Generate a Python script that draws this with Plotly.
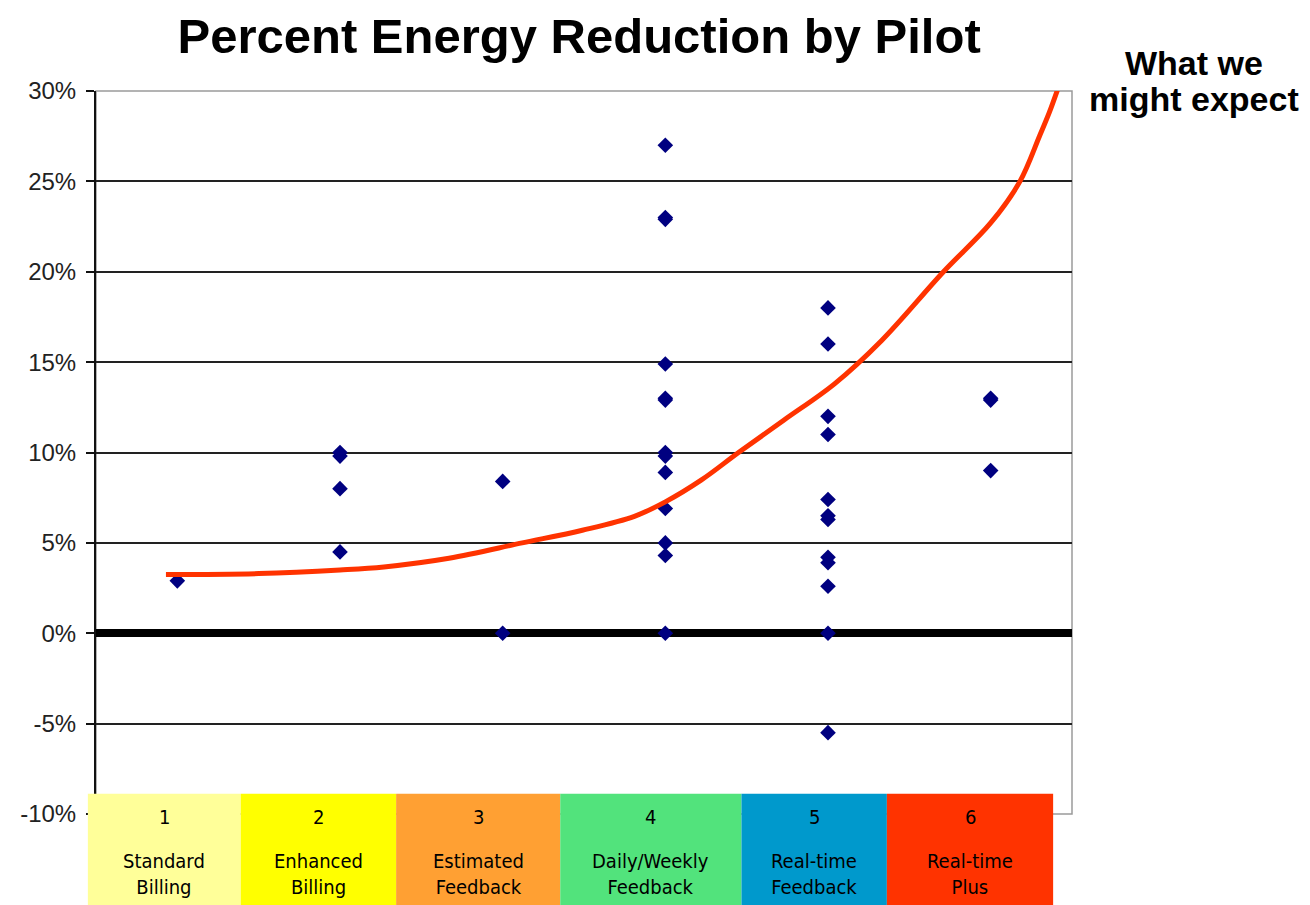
import plotly.graph_objects as go

# ---------------- data ----------------
pilot_numbers = ["1", "2", "3", "4", "5", "6"]
pilot_names = ["Standard<br>Billing", "Enhanced<br>Billing", "Estimated<br>Feedback",
               "Daily/Weekly<br>Feedback", "Real-time<br>Feedback", "Real-time<br>Plus"]
box_colors = ["#FFFF99", "#FFFF00", "#FFA033", "#52E37C", "#0099CC", "#FF3300"]
box_edges = [0.45, 1.39, 2.345, 3.354, 4.468, 5.362, 6.384]   # in pilot-axis units

pilot1 = [2.9]
pilot2 = [10.0, 9.8, 8.0, 4.5]
pilot3 = [8.4, 0.0]
pilot4 = [27.0, 23.0, 22.9, 14.9, 13.0, 12.9, 10.0, 9.8, 8.9, 6.9, 5.0, 4.3, 0.0]
pilot5 = [18.0, 16.0, 12.0, 11.0, 7.4, 6.5, 6.3, 4.2, 3.9, 2.6, 0.0, -5.5]
pilot6 = [13.0, 12.9, 9.0]
pilots = [pilot1, pilot2, pilot3, pilot4, pilot5, pilot6]

curve_x = [0.93, 1.5, 2.0, 2.27, 2.67, 3.12, 3.49, 3.81, 4.0, 4.22, 4.45, 4.73, 5.04,
           5.33, 5.71, 6.0, 6.18, 6.3, 6.36, 6.42]
curve_y = [3.25, 3.3, 3.5, 3.67, 4.15, 5.0, 5.7, 6.47, 7.27, 8.47, 10.0, 11.8, 13.8,
           16.2, 20.0, 22.7, 25.0, 27.5, 28.8, 30.3]

x_range = [0.5, 6.5]
y_range = [-10, 30]
y_ticks = [-10, -5, 0, 5, 10, 15, 20, 25, 30]
y_tick_labels = ["-10%", "-5%", "0%", "5%", "10%", "15%", "20%", "25%", "30%"]

# ---------------- figure ----------------
px_x, px_y = [], []
for i, vals in enumerate(pilots):
    for v in vals:
        px_x.append(i + 1)
        px_y.append(v)

fig = go.Figure()
fig.add_trace(go.Scatter(
    x=px_x, y=px_y, mode="markers",
    marker=dict(symbol="diamond", size=12, color="#000080", line=dict(width=0)),
    showlegend=False, cliponaxis=False))
fig.add_trace(go.Scatter(
    x=curve_x, y=curve_y, mode="lines",
    line=dict(color="#FF3300", width=5, shape="spline", smoothing=1.0),
    showlegend=False, cliponaxis=False))


def to_paper(xv):
    return (xv - x_range[0]) / (x_range[1] - x_range[0])


shapes = []
# plot-area border (gray)
shapes.append(dict(type="rect", xref="paper", yref="paper", x0=0, x1=1, y0=0, y1=1,
                   line=dict(color="#9a9a9a", width=1.5), layer="below"))
# colored pilot boxes (paper refs so they are not clipped at the plot edge)
for i in range(6):
    shapes.append(dict(type="rect", xref="paper", yref="paper",
                       x0=to_paper(box_edges[i]), x1=to_paper(box_edges[i + 1]),
                       y0=-0.14, y1=0.028,
                       fillcolor=box_colors[i], line=dict(width=0), layer="above"))

box_font = dict(family="DejaVu Sans Condensed, DejaVu Sans", size=20, color="#000")
annotations = []
for i in range(6):
    xc = to_paper((box_edges[i] + box_edges[i + 1]) / 2)
    annotations.append(dict(x=xc, y=-0.004, xref="paper", yref="paper", text=pilot_numbers[i],
                            showarrow=False, xanchor="center", yanchor="middle", font=box_font))
    annotations.append(dict(x=xc, y=-0.083, xref="paper", yref="paper", text=pilot_names[i],
                            showarrow=False, xanchor="center", yanchor="middle", font=box_font))
side_font = dict(family="Liberation Sans, Arial", size=34, color="#000")
annotations.append(dict(x=1.1255, y=1.039, xref="paper", yref="paper",
                        text="<b>What we</b>", showarrow=False,
                        xanchor="center", yanchor="middle", font=side_font))
annotations.append(dict(x=1.1255, y=0.989, xref="paper", yref="paper",
                        text="<b>might expect</b>", showarrow=False,
                        xanchor="center", yanchor="middle", font=side_font))

# page body has an 8px margin: size/margins compensate so the plot area lands at 92..1072 x 91..814
fig.update_layout(
    width=1302, height=897,
    margin=dict(l=84, r=238, t=83, b=91),
    paper_bgcolor="white", plot_bgcolor="white",
    title=dict(text="<b>Percent Energy Reduction by Pilot</b>", x=0.495, xref="paper",
               y=1 - 28 / 897, yref="container", xanchor="center", yanchor="middle",
               font=dict(family="Liberation Sans, Arial", size=49, color="#000")),
    shapes=shapes, annotations=annotations,
)
fig.update_xaxes(range=x_range, showgrid=False, zeroline=False, showticklabels=False,
                 showline=False, ticks="")
fig.update_yaxes(range=y_range, tickvals=y_ticks, ticktext=y_tick_labels,
                 showgrid=True, gridcolor="#222", gridwidth=1.5,
                 zeroline=True, zerolinecolor="#000", zerolinewidth=8,
                 showline=True, linecolor="#111", linewidth=2,
                 ticks="outside", ticklen=8, tickcolor="#111", tickwidth=2,
                 ticklabelstandoff=5,
                 tickfont=dict(family="Liberation Sans, Arial", size=24, color="#222"))

fig.write_html("out.html")
